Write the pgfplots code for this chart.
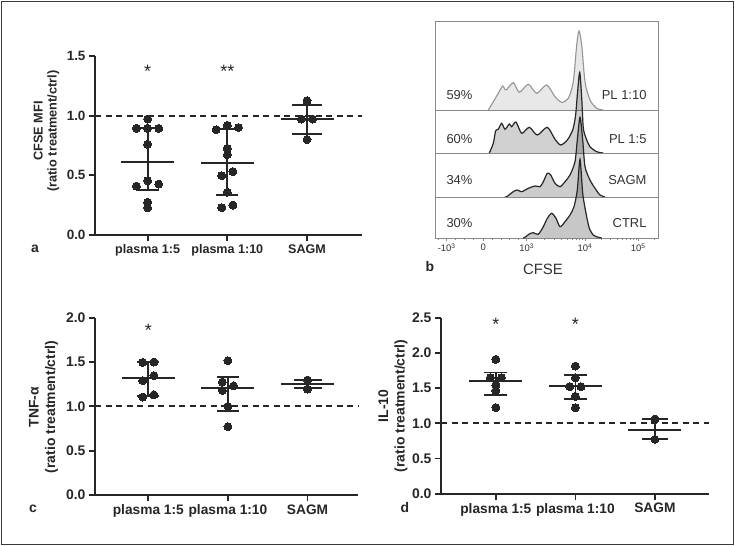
\documentclass[border=0pt]{standalone}
\usepackage{pgfplots}
\pgfplotsset{compat=1.18}
\usepackage{fontspec}
\setmainfont{Liberation Sans}
\definecolor{ax}{HTML}{262626}
\definecolor{fr}{HTML}{3A3A3A}
\definecolor{bx}{HTML}{8A8A8A}
\definecolor{tx}{HTML}{333333}
\pgfplotsset{
  dotplot/.style={
    scale only axis,
    axis lines=left,
    axis line style={-, line width=1.8bp, ax},
    tick style={line width=1.8bp, ax},
    tick align=outside,
    major tick length=6bp,
    xtick={0,1,2},
    xticklabels={plasma 1:5, plasma 1:10, SAGM},
    /pgf/number format/assume math mode=true,
    y tick label style={/pgf/number format/fixed, /pgf/number format/fixed zerofill, /pgf/number format/precision=1},
    clip=false,
  },
  dots/.style={only marks, mark=*, mark size=4bp, mark options={fill=ax, draw=ax, line width=0pt}},
  summ/.style={only marks, mark=-, mark size=26.5bp, mark options={line width=1.8bp, draw=ax},
    error bars/.cd, y dir=both, y explicit, error bar style={line width=1.8bp, ax},
    error mark=|, error mark options={line width=1.8bp, ax, mark size=#1}},
  refline/.style={ax, line width=1.8bp, dash pattern=on 6bp off 4.5bp},
}
\begin{document}
\begin{tikzpicture}
\useasboundingbox (0,0) rectangle (735bp,-546bp);
\fill[white] (0,0) rectangle (735bp,-546bp);
\draw[fr, line width=1.2bp] (1.5bp,-1.5bp) rectangle (733.5bp,-544.5bp);

% ---------------- panel a ----------------
\begin{axis}[dotplot, at={(95bp,-235bp)}, anchor=south west, width=267bp, height=179bp,
  xmin=-0.66, xmax=2.69, ymin=0, ymax=1.5, ytick={0,0.5,1,1.5},
  x tick label style={font=\fontsize{12.6}{14}\selectfont\bfseries, text=ax},
  y tick label style={font=\fontsize{13.5}{14}\selectfont\bfseries, text=ax}]
\addplot[refline] coordinates {(-0.66,1) (2.69,1)};
\addplot[summ=11bp] coordinates {(0,0.609) += (0,0.291) -= (0,0.232) (1,0.606) += (0,0.279) -= (0,0.271)};
\addplot[summ=15bp] coordinates {(2,0.970) += (0,0.120) -= (0,0.124)};
\addplot[dots] coordinates {(0,0.972) (-0.14,0.894) (0,0.894) (0.14,0.894) (0,0.760) (0,0.455) (-0.14,0.410) (0.14,0.427) (0,0.274) (0,0.229)};
\addplot[dots] coordinates {(0.86,0.883) (1,0.919) (1.14,0.900) (1,0.726) (1,0.673) (0.93,0.497) (1.07,0.531) (1,0.358) (0.93,0.229) (1.07,0.251)};
\addplot[dots] coordinates {(2,1.126) (1.93,0.972) (2.07,0.972) (2,0.800)};
\node[font=\fontsize{18}{18}\selectfont, text=ax] at (axis cs:0,1.37) {*};
\node[font=\fontsize{18}{18}\selectfont, text=ax] at (axis cs:1,1.37) {**};
\end{axis}
\node[rotate=90, align=center, font=\fontsize{12.8}{14}\selectfont\bfseries, text=ax] at (46.5bp,-131bp) {CFSE MFI\\(ratio treatment/ctrl)};
\node[font=\fontsize{14}{14}\selectfont\bfseries, text=ax] at (35bp,-249bp) {a};

% ---------------- panel b ----------------
\begin{axis}[scale only axis, at={(435bp,-238bp)}, anchor=south west, width=223bp, height=217bp,
  xmin=0, xmax=223, ymin=0, ymax=217,
  axis line style={bx, line width=0.9bp},
  ytick=\empty, xtick pos=bottom,
  xtick={11.7,48.3,91.7,150,203.3},
  xticklabels={-10\textsuperscript{3}, 0, 10\textsuperscript{3}, 10\textsuperscript{4}, 10\textsuperscript{5}},
  minor xtick={3,20,29,38,57,66,74,83,109.3,119.5,126.8,132.4,137.1,141.0,144.4,147.3,166.0,175.4,182.1,187.3,191.5,195.0,198.1,200.9,219.3},
  tick align=outside, major tick length=3bp, minor tick length=2bp,
  tick style={bx, line width=0.7bp},
  x tick label style={font=\fontsize{9.5}{10}\selectfont, text=tx, yshift=1bp}]
\addplot[smooth, tension=0.45, draw=black!42, line width=1.1bp, fill=black, fill opacity=0.09] coordinates {
(53.3,128) (58.3,136.3) (63.3,144.7) (67.7,152) (71,148) (78.3,155.3) (84.3,145.7) (93.3,153.7) (101.7,144.7) (111.7,153) (120,141.3) (126.7,135.7) (133.3,139.7) (138.3,156.3) (141.7,193) (144,207) (146.7,193) (150,156.3) (155,138) (161.7,129.7) (168.3,128)};
\addplot[bx, line width=0.9bp] coordinates {(0,128) (223,128)};
\addplot[smooth, tension=0.45, draw=ax, line width=1.2bp, fill=black, fill opacity=0.18] coordinates {
(54.3,85) (58.3,94.7) (60.7,107.3) (63.3,108.7) (66.7,114.7) (70,108.7) (74.3,114) (76.7,111.3) (81,116) (86.7,104.7) (94.3,110.7) (102.3,103) (112.3,110.7) (120,98.7) (125.7,93) (132.3,98) (137.7,108) (140.5,122) (142.5,145) (144.7,165.7) (146.7,140) (148.3,110) (151,100) (155,91.3) (161.7,86.3) (168.3,85)};
\addplot[bx, line width=0.9bp] coordinates {(0,85) (223,85)};
\addplot[smooth, tension=0.45, draw=ax, line width=1.2bp, fill=black, fill opacity=0.2] coordinates {
(70,41) (71.7,41.3) (78.3,46.3) (82.3,48) (86.7,46.3) (93.3,49.7) (100,52) (105,51.3) (108.3,56.3) (112.3,64.7) (115.7,63) (120,54.7) (125,51.3) (130,56.3) (135,63) (140,76.3) (142.3,98) (145,120.7) (147.7,98) (150,71.3) (155,58) (160,49.7) (165,43) (170,41)};
\addplot[bx, line width=0.9bp] coordinates {(0,41) (223,41)};
\addplot[smooth, tension=0.45, draw=ax, line width=1.2bp, fill=black, fill opacity=0.22] coordinates {
(88,0) (90,0.7) (94.3,4) (98.3,5.3) (103.3,3.7) (108.3,11.3) (112.3,19.7) (116.7,24.7) (121,19.7) (125,11.3) (130,16.3) (135,23) (139,31.3) (142.3,48) (145,78.7) (147.7,44.7) (151,24.7) (154.3,9.7) (158.3,3) (163.3,0.7) (166.7,0)};
\end{axis}
\begin{scope}[every node/.style={font=\fontsize{13}{13}\selectfont, text=tx}]
\node[anchor=west] at (443bp,-95bp) {59\%};
\node[anchor=west] at (443bp,-139bp) {60\%};
\node[anchor=west] at (443bp,-180bp) {34\%};
\node[anchor=west] at (443bp,-222.7bp) {30\%};
\node[anchor=east] at (650bp,-95bp) {PL 1:10};
\node[anchor=east] at (650bp,-139bp) {PL 1:5};
\node[anchor=east] at (650bp,-180bp) {SAGM};
\node[anchor=east] at (650bp,-222.7bp) {CTRL};
\end{scope}
\node[font=\fontsize{15}{15}\selectfont, text=tx] at (543bp,-269bp) {CFSE};
\node[font=\fontsize{14}{14}\selectfont\bfseries, text=ax] at (430bp,-267bp) {b};

% ---------------- panel c ----------------
\begin{axis}[dotplot, at={(95bp,-495bp)}, anchor=south west, width=262.7bp, height=177.3bp,
  xmin=-0.67, xmax=2.63, ymin=0, ymax=2, ytick={0,0.5,1,1.5,2},
  x tick label style={font=\fontsize{13.8}{15}\selectfont\bfseries, text=ax},
  y tick label style={font=\fontsize{14}{15}\selectfont\bfseries, text=ax}]
\addplot[refline] coordinates {(-0.67,1) (2.63,1)};
\addplot[summ=11bp] coordinates {(0,1.316) += (0,0.184) -= (0,0.196) (1,1.203) += (0,0.128) -= (0,0.259)};
\addplot[summ=14bp] coordinates {(2,1.248) += (0,0.049) -= (0,0.045)};
\addplot[dots] coordinates {(-0.07,1.496) (0.07,1.500) (-0.07,1.290) (0.07,1.346) (-0.07,1.105) (0.07,1.130)};
\addplot[dots] coordinates {(1,1.515) (0.93,1.274) (0.93,1.180) (1.07,1.230) (1,1.000) (1,0.771)};
\addplot[dots] coordinates {(2,1.297) (2,1.195)};
\node[font=\fontsize{18}{18}\selectfont, text=ax] at (axis cs:0,1.86) {*};
\end{axis}
\node[rotate=90, align=center, font=\fontsize{14}{16.5}\selectfont\bfseries, text=ax] at (43.5bp,-407bp) {TNF-α\\(ratio treatment/ctrl)};
\node[font=\fontsize{14}{14}\selectfont\bfseries, text=ax] at (33bp,-509bp) {c};

% ---------------- panel d ----------------
\begin{axis}[dotplot, at={(441bp,-493.7bp)}, anchor=south west, width=268bp, height=176bp,
  xmin=-0.69, xmax=2.68, ymin=0, ymax=2.5, ytick={0,0.5,1,1.5,2,2.5},
  x tick label style={font=\fontsize{13.8}{15}\selectfont\bfseries, text=ax},
  y tick label style={font=\fontsize{14}{15}\selectfont\bfseries, text=ax}]
\addplot[refline] coordinates {(-0.69,1) (2.68,1)};
\addplot[summ=11.5bp] coordinates {(0,1.600) += (0,0.123) -= (0,0.203) (1,1.529) += (0,0.157) -= (0,0.184)};
\addplot[summ=13bp] coordinates {(2,0.909) += (0,0.152) -= (0,0.137)};
\addplot[dots] coordinates {(0,1.908) (-0.07,1.648) (0.07,1.648) (0,1.543) (0,1.463) (0,1.222)};
\addplot[dots] coordinates {(1,1.813) (1,1.648) (0.93,1.520) (1.07,1.520) (1,1.383) (1,1.222)};
\addplot[dots] coordinates {(2,1.061) (2,0.772)};
\node[font=\fontsize{18}{18}\selectfont, text=ax] at (axis cs:0,2.41) {*};
\node[font=\fontsize{18}{18}\selectfont, text=ax] at (axis cs:1,2.41) {*};
\end{axis}
\node[rotate=90, align=center, font=\fontsize{14}{16.5}\selectfont\bfseries, text=ax] at (393bp,-406bp) {IL-10\\(ratio treatment/ctrl)};
\node[font=\fontsize{14}{14}\selectfont\bfseries, text=ax] at (405bp,-508bp) {d};
\end{tikzpicture}
\end{document}
